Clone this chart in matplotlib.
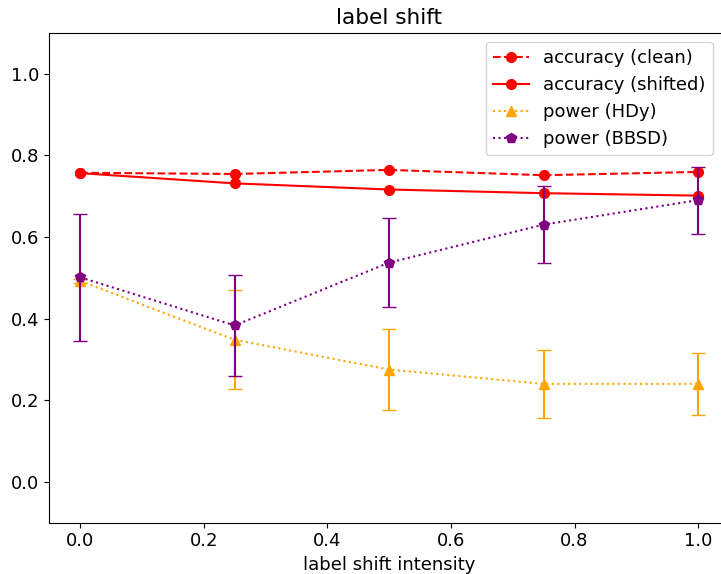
import matplotlib
matplotlib.use("Agg")
import matplotlib.pyplot as plt
import numpy as np

intensity = [0.0, 0.25, 0.5, 0.75, 1.0]
acc_clean = [0.757, 0.754, 0.764, 0.751, 0.759]
acc_shifted = [0.756, 0.731, 0.716, 0.707, 0.701]
power_hdy = [0.492, 0.348, 0.275, 0.240, 0.240]
power_hdy_err = [0.004, 0.121, 0.099, 0.084, 0.076]
power_bbsd = [0.501, 0.383, 0.537, 0.630, 0.690]
power_bbsd_err = [0.155, 0.123, 0.109, 0.094, 0.082]

plt.rcParams.update({
    'font.size': 13,
    'lines.linewidth': 1.5,
    'lines.markersize': 7,
})

fig = plt.figure(figsize=(7.21, 5.74), dpi=100)
W, H = 721, 574
ax = fig.add_axes([49.3 / W, (H - 522.7) / H, (729 - 49.3) / W, 490 / H])

ax.plot(intensity, acc_clean, color='red', linestyle='--', marker='o', label='accuracy (clean)')
ax.plot(intensity, acc_shifted, color='red', linestyle='-', marker='o', label='accuracy (shifted)')
ax.errorbar(intensity, power_hdy, yerr=power_hdy_err, color='orange', fmt='none', capsize=4.7)
ax.plot(intensity, power_hdy, color='orange', linestyle=':', marker='^', label='power (HDy)')
ax.errorbar(intensity, power_bbsd, yerr=power_bbsd_err, color='purple', fmt='none', capsize=4.7)
ax.plot(intensity, power_bbsd, color='purple', linestyle=':', marker='p', label='power (BBSD)')

ax.set_xlim(-0.05, 1.05)
ax.set_ylim(-0.1, 1.1)
ax.set_title('label shift')
ax.set_xlabel('label shift intensity')
ax.legend(loc='upper right', bbox_to_anchor=(0.9765, 0.9816), borderaxespad=0)

fig.savefig('out.png', dpi=100)
